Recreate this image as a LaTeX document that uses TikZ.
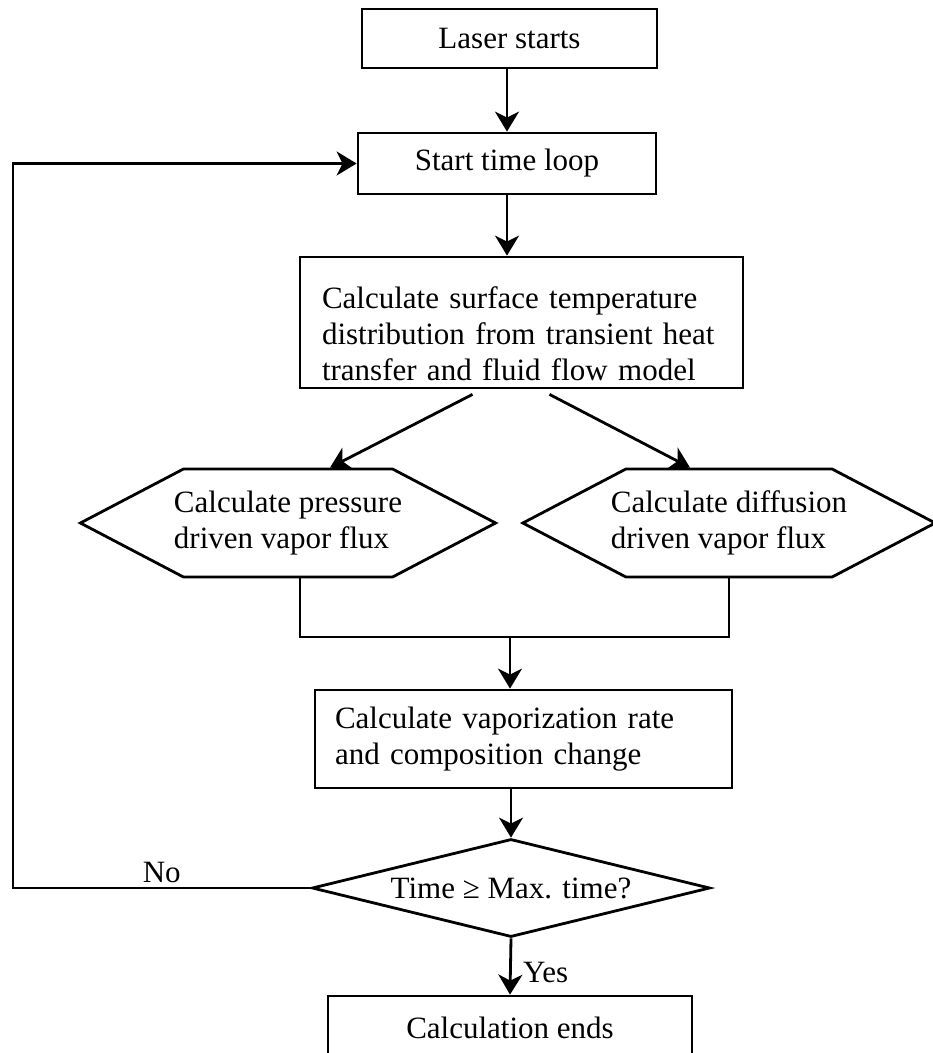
\documentclass[tikz,border=0pt]{standalone}
\usepackage{fontspec}
\setmainfont{Liberation Serif}
\usetikzlibrary{calc, arrows.meta, shapes.geometric, shapes.symbols}
\tikzset{>={Stealth[length=20pt, width=24pt, inset=6pt]}}
\tikzset{box/.style = {draw, line width = 2.8pt, rectangle, inner sep = 2pt},
         hexbox/.style = {draw, line width = 2.8pt, signal, signal to = west and east,
                          signal pointer angle = 55.3, minimum height = 108pt,
                          align = left, inner ysep = 0pt},
         decision/.style = {draw, line width = 2.8pt, diamond, aspect = 4, inner sep = 0pt,
                            minimum width = 398pt, minimum height = 98pt},
         arr/.style = {->, line width = 2.8pt}}

\begin{document}
\begin{tikzpicture}[x = 1pt, y = -1pt, font = \fontsize{31}{36}\selectfont]
\useasboundingbox (0,0) rectangle (933,1053);
\node[box, minimum width = 295pt, minimum height = 59pt] (laser) at (509.5, 38.5) {Laser starts};
\node[box, minimum width = 298pt, minimum height = 61pt] (loop) at (507, 163.5) {Start time loop};
\node[box, minimum width = 443pt, minimum height = 131pt, text width = 399pt, align = left] (calc) at (521.5, 322.5)
  {\rule{0pt}{45pt}Calculate surface temperature\\ distribution from transient heat\\ transfer and fluid flow model};
\node[hexbox, inner xsep = -9.5pt] (hexL) at (288, 523) {Calculate pressure\\ driven vapor flux};
\node[hexbox, inner xsep = -15pt] (hexR) at (729, 523) {Calculate diffusion\\ driven vapor flux};
\node[box, minimum width = 417pt, minimum height = 98pt, text width = 377pt, align = left] (vap) at (523.5, 739)
  {Calculate vaporization rate\\ and composition change};
\node[decision] (dec) at (511, 888) {Time ≥ Max. time?};
\node[box, minimum width = 364pt, minimum height = 64pt] (ends) at (510, 1028) {Calculation ends};

\coordinate (join) at (510, 637);
\coordinate (bend) at (13, 0);

\draw[arr] (laser.south -| loop) -- (loop.north);
\draw[arr] (loop.south) -- (loop.south |- calc.north);
\draw[arr] ([xshift = -49pt, yshift = -5pt]calc.south) -- ([xshift = 42pt]hexL.north);
\draw[arr] ([xshift = 28pt, yshift = -5pt]calc.south) -- ([xshift = -39pt]hexR.north);
\draw[line width = 2.8pt] ([xshift = 12pt]hexL.south) |- (hexR.south |- join) -- (hexR.south);
\draw[arr] (join) -- (join |- vap.north);
\draw[arr] (vap.south -| dec) -- (dec.north);
\draw[arr] (dec.west) -- node[above] {No} (dec.west -| bend) |- (loop.west);
\draw[arr] (dec.south) -- node[pos = 0.6, right = 8pt] {Yes} (ends.north);
\end{tikzpicture}
\end{document}
